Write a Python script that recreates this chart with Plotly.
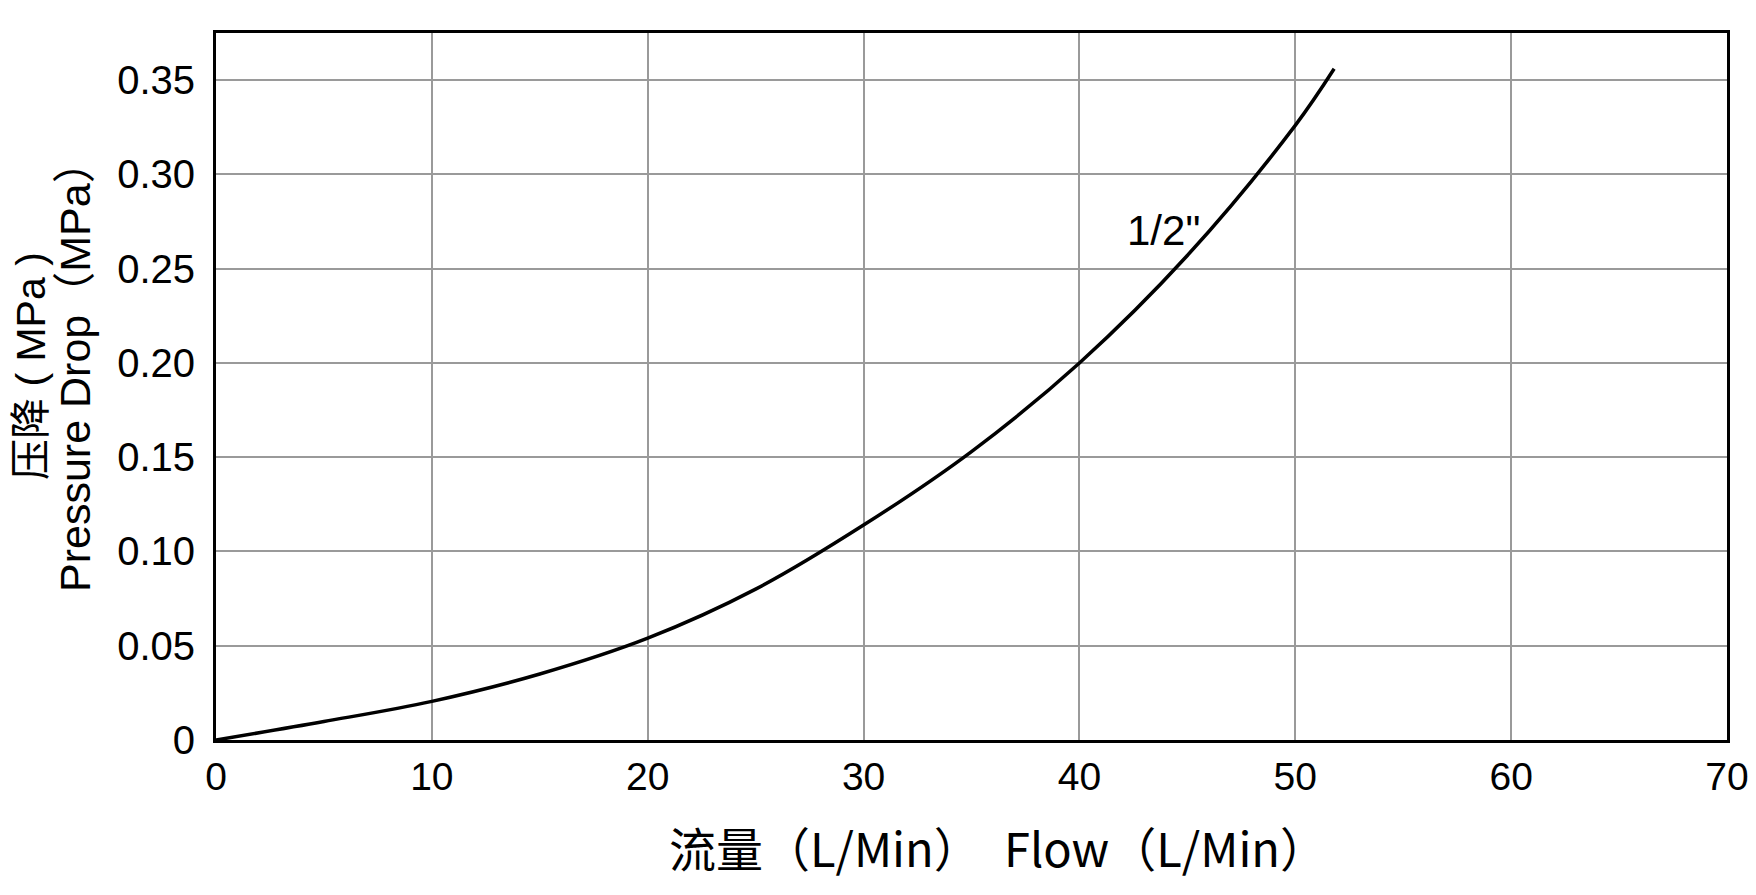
import plotly.graph_objects as go

# flow (L/Min) vs pressure drop (MPa), 1/2" curve
flow = [0, 5, 10, 15, 20, 25, 30, 35, 40, 45, 50, 51.8]
pressure = [0, 0.0098, 0.0205, 0.035, 0.054, 0.080, 0.114, 0.153, 0.200, 0.257, 0.326, 0.356]

x_ticks = [0, 10, 20, 30, 40, 50, 60, 70]
y_ticks = [0, 0.05, 0.10, 0.15, 0.20, 0.25, 0.30, 0.35]
y_tick_text = ["0", "0.05", "0.10", "0.15", "0.20", "0.25", "0.30", "0.35"]

latin = "Liberation Sans, Arial, Noto Sans CJK SC"
cjk = "Noto Sans CJK SC, Liberation Sans"

fig = go.Figure()
fig.add_trace(go.Scatter(x=flow, y=pressure, mode="lines", line=dict(color="black", width=3.5, shape="spline"),
                         showlegend=False, hoverinfo="skip"))

fig.add_annotation(x=43.9, y=0.270, text='1/2"', showarrow=False, font=dict(family=latin, size=42, color="black"))

# y axis title, two lines
fig.add_annotation(xref="paper", yref="paper", x=0, y=0.529, xanchor="center", yanchor="middle", xshift=-185,
                   text="压降 ( MPa )", textangle=-90, showarrow=False,
                   font=dict(family=latin, size=41, color="black"))
fig.add_annotation(xref="paper", yref="paper", x=0, y=0.529, xanchor="center", yanchor="middle", xshift=-141,
                   text="Pressure Drop（MPa）", textangle=-90, showarrow=False,
                   font=dict(family=latin, size=43, color="black"))

# x axis title
fig.add_annotation(xref="paper", yref="paper", x=0, y=0, xanchor="center", yanchor="middle",
                   xshift=609, yshift=-106, text="流量（L/Min）", showarrow=False,
                   font=dict(family=cjk, size=47, color="black"))
fig.add_annotation(xref="paper", yref="paper", x=0, y=0, xanchor="center", yanchor="middle",
                   xshift=949, yshift=-106, text="Flow（L/Min）", showarrow=False,
                   font=dict(family=cjk, size=47, color="black"))

fig.update_xaxes(range=[0, 70], tickvals=x_ticks, showgrid=True, gridcolor="#9a9a9a", gridwidth=2,
                 zeroline=False, showline=True, linecolor="black", linewidth=3, mirror=True,
                 ticks="", tickfont=dict(family=latin, size=39, color="black"), ticklabelstandoff=0)
fig.update_yaxes(range=[0, 0.375], tickvals=y_ticks, ticktext=y_tick_text, showgrid=True, gridcolor="#9a9a9a",
                 gridwidth=2, zeroline=False, showline=True, linecolor="black", linewidth=3, mirror=True,
                 ticks="", tickfont=dict(family=latin, size=40, color="black"), ticklabelstandoff=10)
# page body adds an 8px offset, so margins are pulled in by 8 on the left/top
fig.update_layout(width=1756, height=895, margin=dict(l=208, r=37, t=25, b=163),
                  plot_bgcolor="white", paper_bgcolor="white")
fig.write_html("out.html")
